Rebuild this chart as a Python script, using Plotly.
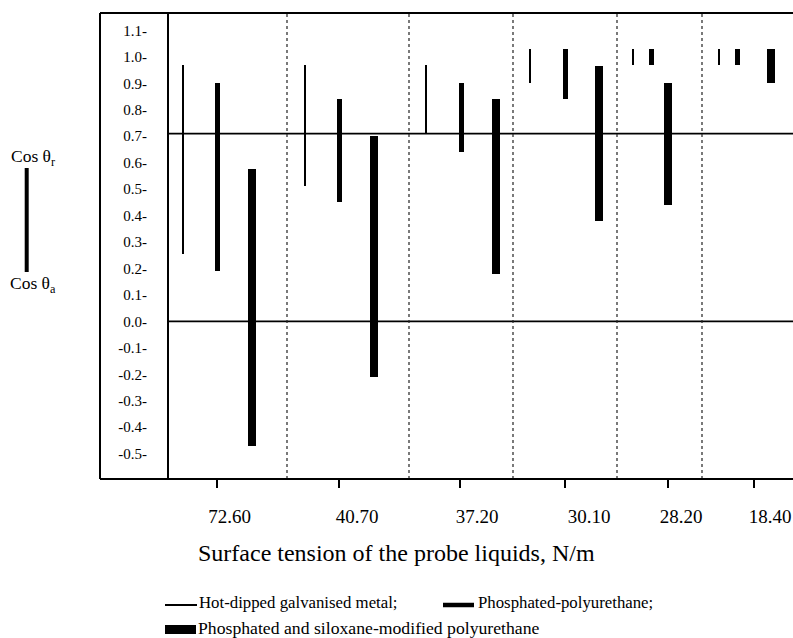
import plotly.graph_objects as go

# ---------------- data ----------------
liquids = ["72.60", "40.70", "37.20", "30.10", "28.20", "18.40"]

# cos(theta_a) (bottom) and cos(theta_r) (top) for each coating
galv_cos_a = [0.255, 0.51, 0.71, 0.90, 0.97, 0.97]
galv_cos_r = [0.97, 0.97, 0.97, 1.03, 1.03, 1.03]

ppu_cos_a = [0.19, 0.45, 0.64, 0.84, 0.97, 0.97]
ppu_cos_r = [0.90, 0.84, 0.90, 1.03, 1.03, 1.03]

spu_cos_a = [-0.47, -0.21, 0.18, 0.38, 0.44, 0.90]
spu_cos_r = [0.575, 0.70, 0.84, 0.965, 0.90, 1.03]

# horizontal positions on the (unitless) liquid axis
galv_x = [14, 136, 257, 361, 464, 550]
ppu_x = [48, 170, 292, 396, 482, 568]
spu_x = [83, 205, 327, 430, 499, 602]
tick_x = [48, 170, 291, 396, 499, 585]
label_x = [60.6, 188, 308, 420, 512, 601]
separator_x = [118, 240, 344, 448, 533]

y_ticks = [round(-0.5 + 0.1 * i, 1) for i in range(17)]
y_ticktext = [("%.1f" % v) + "-" for v in y_ticks]
ref_lines = [0.71, 0.0]

# ---------------- layout geometry ----------------
W, H = 793, 638
L, R, T, B = 169, 0, 13, 159
XMAX = 624
YMIN, YMAX = -0.596, 1.166
FONT = "Liberation Serif, Times New Roman, serif"

plot_w = W - L - R
plot_h = H - T - B


def px(xp):
    return (xp - L) / plot_w


def py(yp):
    return (H - B - yp) / plot_h


fig = go.Figure()


def add_series(xs, lo, hi, width, name):
    fig.add_trace(go.Bar(
        x=xs, y=[h - l for l, h in zip(lo, hi)], base=lo, width=width,
        marker=dict(color="black", line=dict(width=0)), name=name,
        showlegend=False, hoverinfo="skip"))


add_series(galv_x, galv_cos_a, galv_cos_r, 2.5, "Hot-dipped galvanised metal")
add_series(ppu_x, ppu_cos_a, ppu_cos_r, 5, "Phosphated-polyurethane")
add_series(spu_x, spu_cos_a, spu_cos_r, 8.5, "Phosphated and siloxane-modified polyurethane")

# invisible trace on the label axis
fig.add_trace(go.Scatter(x=label_x, y=[None] * len(label_x), xaxis="x2",
                         mode="markers", showlegend=False, hoverinfo="skip"))

shapes = []
# reference lines
for v in ref_lines:
    shapes.append(dict(type="line", xref="paper", yref="y", x0=0, x1=1, y0=v, y1=v,
                       line=dict(color="black", width=1.6)))
# dotted separators
for s in separator_x:
    shapes.append(dict(type="line", xref="x", yref="paper", x0=s, x1=s, y0=0, y1=1,
                       line=dict(color="#222", width=1.2, dash="dot")))
# outer frame
x_out = px(100)
shapes += [
    dict(type="line", xref="paper", yref="paper", x0=x_out, x1=x_out, y0=0, y1=1,
         line=dict(color="black", width=2)),
    dict(type="line", xref="paper", yref="paper", x0=x_out, x1=1, y0=1, y1=1,
         line=dict(color="black", width=2)),
    dict(type="line", xref="paper", yref="paper", x0=x_out, x1=1, y0=0, y1=0,
         line=dict(color="black", width=2)),
]
# left key bar (cos theta_r to cos theta_a)
shapes.append(dict(type="line", xref="paper", yref="paper", x0=px(26.7), x1=px(26.7),
                   y0=py(168), y1=py(272), line=dict(color="black", width=4)))
# legend samples
shapes += [
    dict(type="line", xref="paper", yref="paper", x0=px(165), x1=px(197), y0=py(605), y1=py(605),
         line=dict(color="black", width=2)),
    dict(type="line", xref="paper", yref="paper", x0=px(443), x1=px(474), y0=py(605), y1=py(605),
         line=dict(color="black", width=4.5)),
    dict(type="rect", xref="paper", yref="paper", x0=px(165), x1=px(196), y0=py(634), y1=py(625),
         fillcolor="black", line=dict(width=0)),
]

annotations = [
    dict(text="Surface tension of the probe liquids, N/m", xref="paper", yref="paper",
         x=px(196), y=py(553), xanchor="left", yanchor="middle", showarrow=False,
         font=dict(family=FONT, size=24, color="black")),
    dict(text="Hot-dipped galvanised metal;", xref="paper", yref="paper",
         x=px(197), y=py(602), xanchor="left", yanchor="middle", showarrow=False,
         font=dict(family=FONT, size=16.8, color="black")),
    dict(text="Phosphated-polyurethane;", xref="paper", yref="paper",
         x=px(476), y=py(602), xanchor="left", yanchor="middle", showarrow=False,
         font=dict(family=FONT, size=16.8, color="black")),
    dict(text="Phosphated and siloxane-modified polyurethane", xref="paper", yref="paper",
         x=px(196), y=py(628), xanchor="left", yanchor="middle", showarrow=False,
         font=dict(family=FONT, size=17.7, color="black")),
    dict(text="Cos θ<sub>r</sub>", xref="paper", yref="paper",
         x=px(33), y=py(158), xanchor="center", yanchor="middle", showarrow=False,
         font=dict(family=FONT, size=17.5, color="black")),
    dict(text="Cos θ<sub>a</sub>", xref="paper", yref="paper",
         x=px(33), y=py(284), xanchor="center", yanchor="middle", showarrow=False,
         font=dict(family=FONT, size=17.5, color="black")),
]

fig.update_layout(
    width=W, height=H, autosize=False,
    margin=dict(l=L, r=R, t=T, b=B, pad=0),
    paper_bgcolor="white", plot_bgcolor="white",
    barmode="overlay", bargap=0,
    font=dict(family=FONT, color="black"),
    xaxis=dict(range=[0, XMAX], showgrid=False, zeroline=False, showline=False,
               tickvals=tick_x, ticks="outside", ticklen=8, tickwidth=2, tickcolor="black",
               showticklabels=False, fixedrange=True),
    xaxis2=dict(range=[0, XMAX], overlaying="x", side="bottom", anchor="y",
                tickvals=label_x, ticktext=liquids, ticks="", showgrid=False,
                zeroline=False, showline=False, ticklabelstandoff=24,
                tickfont=dict(family=FONT, size=19, color="black")),
    yaxis=dict(range=[YMIN, YMAX], tickvals=y_ticks, ticktext=y_ticktext,
               showgrid=False, zeroline=False, showline=True, linewidth=2, linecolor="black",
               ticks="", ticklabelstandoff=17,
               tickfont=dict(family=FONT, size=15, color="black")),
    shapes=shapes, annotations=annotations,
)

fig.write_html("out.html")
